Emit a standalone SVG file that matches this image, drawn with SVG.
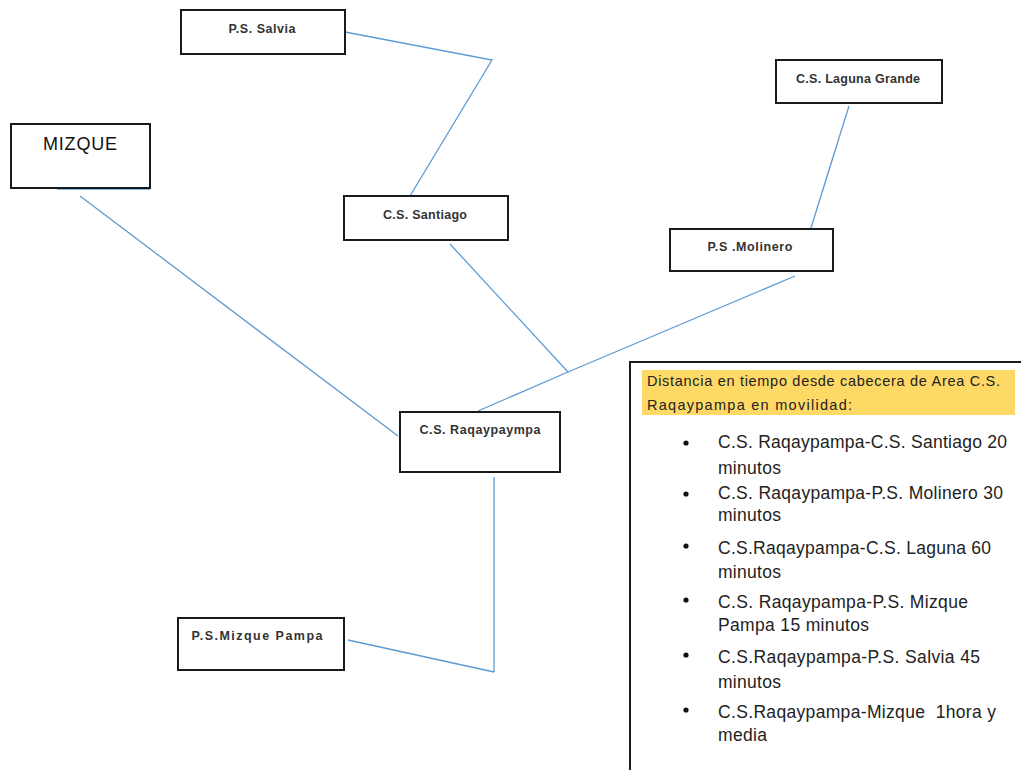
<svg xmlns="http://www.w3.org/2000/svg" width="1021" height="770" viewBox="0 0 1021 770">
<style>
.box{fill:#fff;stroke:#1a1a1a;stroke-width:2}
.lbl{font-family:"Liberation Sans",Arial,sans-serif;font-size:12.5px;font-weight:bold;fill:#333;text-anchor:middle}
.con{fill:none;stroke:#5b9bd5;stroke-width:1.3}
.lg{font-family:"Liberation Sans",Arial,sans-serif;font-size:17.5px;fill:#222}
.hd{font-family:"Liberation Sans",Arial,sans-serif;font-size:14.5px;fill:#222}
</style>
<rect width="1021" height="770" fill="#fff"/>
<g id="connectors">
<polyline class="con" points="345,32 492,60 410,196"/>
<line class="con" x1="849" y1="106" x2="810" y2="231"/>
<polyline class="con" points="795,276 568,372 478,411"/>
<line class="con" x1="450" y1="244" x2="568" y2="372"/>
<line class="con" x1="80" y1="196" x2="398" y2="436"/>
<line class="con" x1="57" y1="189" x2="150" y2="189"/>
<line class="con" x1="494" y1="477" x2="494" y2="672"/>
<line class="con" x1="348" y1="640" x2="494" y2="672"/>
</g>
<g id="salvia"><rect class="box" x="181" y="10" width="164" height="44"/><text class="lbl" x="262" y="33" textLength="67">P.S. Salvia</text></g>
<g id="mizque"><rect class="box" x="11" y="124" width="139" height="64"/><text x="80" y="150" font-family="Liberation Sans,Arial,sans-serif" font-size="18" fill="#111" text-anchor="middle" textLength="74">MIZQUE</text></g>
<g id="laguna"><rect class="box" x="776" y="60" width="166" height="43"/><text class="lbl" x="858" y="83" textLength="124">C.S. Laguna Grande</text></g>
<g id="santiago"><rect class="box" x="344" y="196" width="164" height="44"/><text class="lbl" x="425" y="219" textLength="84">C.S. Santiago</text></g>
<g id="molinero"><rect class="box" x="670" y="229" width="163" height="42"/><text class="lbl" x="750" y="251" textLength="85">P.S .Molinero</text></g>
<g id="raqaypampa"><rect class="box" x="400" y="412" width="160" height="60"/><text class="lbl" x="480" y="434" textLength="121">C.S. Raqaypaympa</text></g>
<g id="mizquepampa"><rect class="box" x="178" y="618" width="166" height="52"/><text class="lbl" x="257" y="640" textLength="131">P.S.Mizque Pampa</text></g>
<g id="legend">
<rect x="630" y="362" width="400" height="420" fill="#fff" stroke="#1a1a1a" stroke-width="2"/>
<rect x="642" y="370" width="373" height="45" fill="#ffd966"/>
<text class="hd" x="647" y="386" textLength="353">Distancia en tiempo desde cabecera de Area C.S.</text>
<text class="hd" x="647" y="410" textLength="205">Raqaypampa en movilidad:</text>
<g fill="#111">
<circle cx="686" cy="443" r="2.6"/><circle cx="686" cy="494" r="2.6"/><circle cx="686" cy="546" r="2.6"/><circle cx="686" cy="600" r="2.6"/><circle cx="686" cy="655" r="2.6"/><circle cx="686" cy="710" r="2.6"/>
</g>
<text class="lg" x="718" y="448" textLength="289">C.S. Raqaypampa-C.S. Santiago 20</text>
<text class="lg" x="718" y="474" textLength="63">minutos</text>
<text class="lg" x="718" y="499" textLength="285">C.S. Raqaypampa-P.S. Molinero 30</text>
<text class="lg" x="718" y="521" textLength="63">minutos</text>
<text class="lg" x="718" y="554" textLength="273">C.S.Raqaypampa-C.S. Laguna 60</text>
<text class="lg" x="718" y="578" textLength="63">minutos</text>
<text class="lg" x="718" y="608" textLength="250">C.S. Raqaypampa-P.S. Mizque</text>
<text class="lg" x="718" y="631" textLength="151">Pampa 15 minutos</text>
<text class="lg" x="718" y="663" textLength="262">C.S.Raqaypampa-P.S. Salvia 45</text>
<text class="lg" x="718" y="688" textLength="63">minutos</text>
<text class="lg" x="718" y="718" textLength="278" xml:space="preserve">C.S.Raqaypampa-Mizque  1hora y</text>
<text class="lg" x="718" y="741" textLength="49">media</text>
</g>
</svg>
